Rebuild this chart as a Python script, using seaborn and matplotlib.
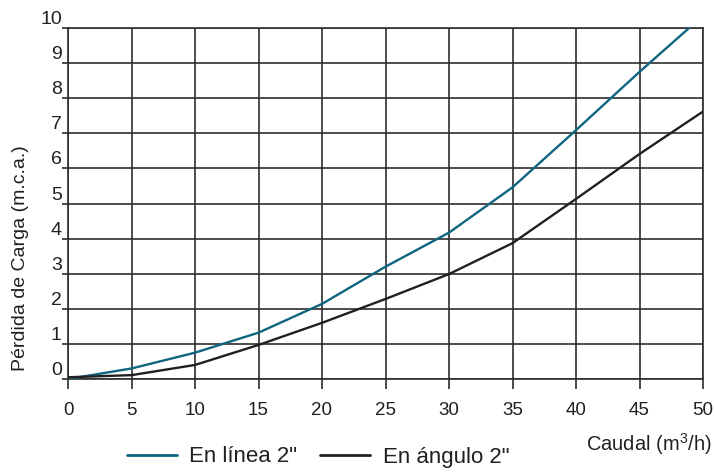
import pandas as pd
import numpy as np
import seaborn as sns
import matplotlib.pyplot as plt

caudal = [0, 5, 10, 15, 20, 25, 30, 35, 40, 45, 50]
en_linea = [0.0, 0.3, 0.75, 1.32, 2.14, 3.2, 4.17, 5.46, 7.09, 8.75, 10.35]
en_angulo = [0.05, 0.11, 0.4, 0.97, 1.6, 2.28, 2.99, 3.87, 5.13, 6.41, 7.62]
series_names = ['En línea 2"', 'En ángulo 2"']
series_colors = ['#0f6580', '#231f20']
y_ticks = list(range(0, 11))
x_ticks = list(range(0, 51, 5))

df = pd.DataFrame({
    'Caudal': caudal * 2,
    'Perdida': en_linea + en_angulo,
    'Serie': [series_names[0]] * len(caudal) + [series_names[1]] * len(caudal),
})

sns.set_style('white')
plt.rcParams['font.family'] = ['Liberation Sans', 'DejaVu Sans']
plt.rcParams['mathtext.fontset'] = 'custom'
plt.rcParams['mathtext.rm'] = 'Liberation Sans'

fig = plt.figure(figsize=(7.14, 4.72), dpi=100)
ax = fig.add_axes([68 / 714, 1 - 379 / 472, 635 / 714, 351 / 472])

sns.lineplot(
    data=df,
    x='Caudal',
    y='Perdida',
    hue='Serie',
    palette=dict(zip(series_names, series_colors)),
    linewidth=1.7,
    ax=ax,
    legend=False,
    zorder=3
)

grid_col = '#2e2e2e'
ax.set_xlim(0, 50)
ax.set_ylim(0, 10)
ax.set_xticks(x_ticks)
ax.set_yticks(y_ticks)
ax.grid(True, color=grid_col, linewidth=1.2)
for s in ax.spines.values():
    s.set_color(grid_col)
    s.set_linewidth(1.2)

ax.tick_params(axis='x', direction='out', length=7.5, width=1.2, color=grid_col,
               pad=9, labelsize=13.5, labelcolor='#231f20', bottom=True)
ax.tick_params(axis='y', direction='out', length=4, width=1.2, color=grid_col,
               pad=0.5, labelsize=14, labelcolor='#231f20', left=True)
for lbl in ax.get_yticklabels():
    lbl.set_verticalalignment('bottom')

ax.set_xlabel('Caudal (m$^3$/h)', fontsize=14.5, color='#231f20', ha='right', va='center')
ax.xaxis.set_label_coords(1.014, -0.185)
ax.set_ylabel('Pérdida de Carga (m.c.a.)', fontsize=14, color='#231f20')
ax.yaxis.set_label_coords(-0.062, 0.345)

handles = [plt.Line2D([0], [0], color=c, linewidth=2) for c in series_colors]
fig.legend(handles, series_names, loc='center', bbox_to_anchor=(318 / 714, 1 - 457 / 472),
           ncol=2, frameon=False, fontsize=16, handlelength=2.25, handletextpad=0.55,
           columnspacing=1.05, labelcolor='#231f20')

plt.savefig('out.png', dpi=100)
